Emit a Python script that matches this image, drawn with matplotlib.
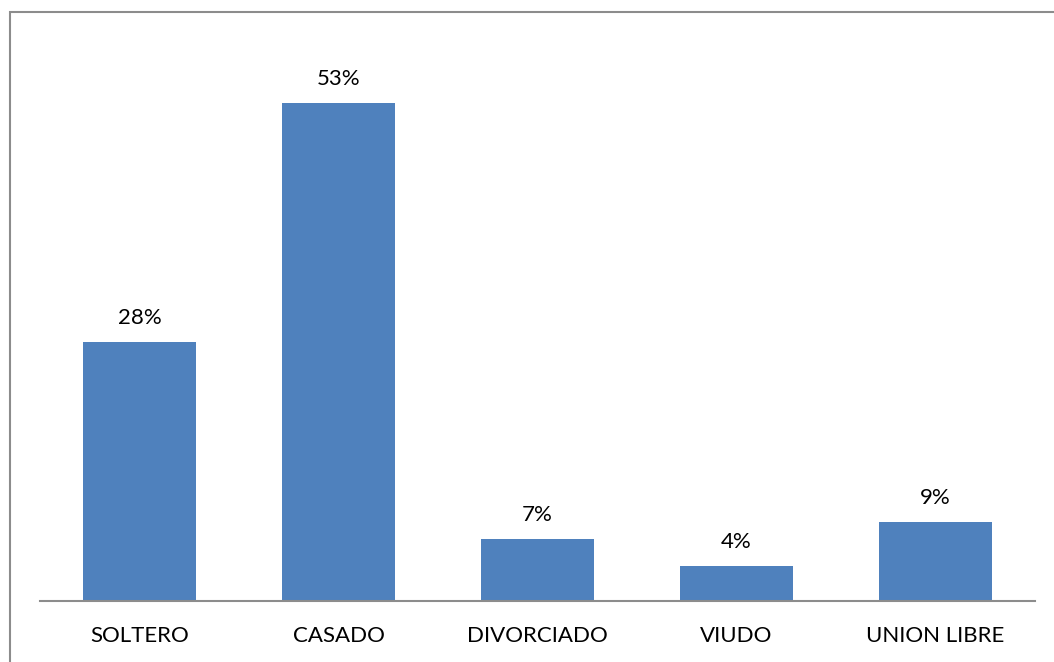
import matplotlib.pyplot as plt
from matplotlib.patches import Rectangle

plt.rcParams['font.family'] = ['Lato', 'DejaVu Sans']

# estado civil
categorias = ['SOLTERO', 'CASADO', 'DIVORCIADO', 'VIUDO', 'UNION LIBRE']
# porcentajes (estimados de la altura de las barras)
valores = [27.6, 53.1, 6.6, 3.7, 8.4]
etiquetas = ['28%', '53%', '7%', '4%', '9%']

fig = plt.figure(figsize=(10.54, 6.62), dpi=100)

# marco del grafico
fig.patches.append(Rectangle((10 / 1054, -0.1), 1.2, 1 - 12 / 662 + 0.1,
                             transform=fig.transFigure, fill=False,
                             edgecolor='#8c8c8c', linewidth=1.5))

ax = fig.add_axes([40 / 1054, 1 - 601 / 662, (1035 - 40) / 1054, 563 / 662])
x = range(len(categorias))
bars = ax.bar(x, valores, width=0.57, color='#4f81bd')

for b, lab in zip(bars, etiquetas):
    ax.annotate(lab, (b.get_x() + b.get_width() / 2, b.get_height()),
                xytext=(0, 10), textcoords='offset points',
                ha='center', va='bottom', fontsize=16)

ax.set_xlim(-0.5, len(categorias) - 0.5)
ax.set_ylim(0, 60)
ax.set_xticks(list(x))
ax.set_xticklabels(categorias, fontsize=16)
ax.tick_params(axis='x', length=0, pad=18)
ax.set_yticks([])
for s in ['top', 'right', 'left']:
    ax.spines[s].set_visible(False)
ax.spines['bottom'].set_color('#8c8c8c')
ax.spines['bottom'].set_linewidth(1.5)

plt.savefig('out.png')
